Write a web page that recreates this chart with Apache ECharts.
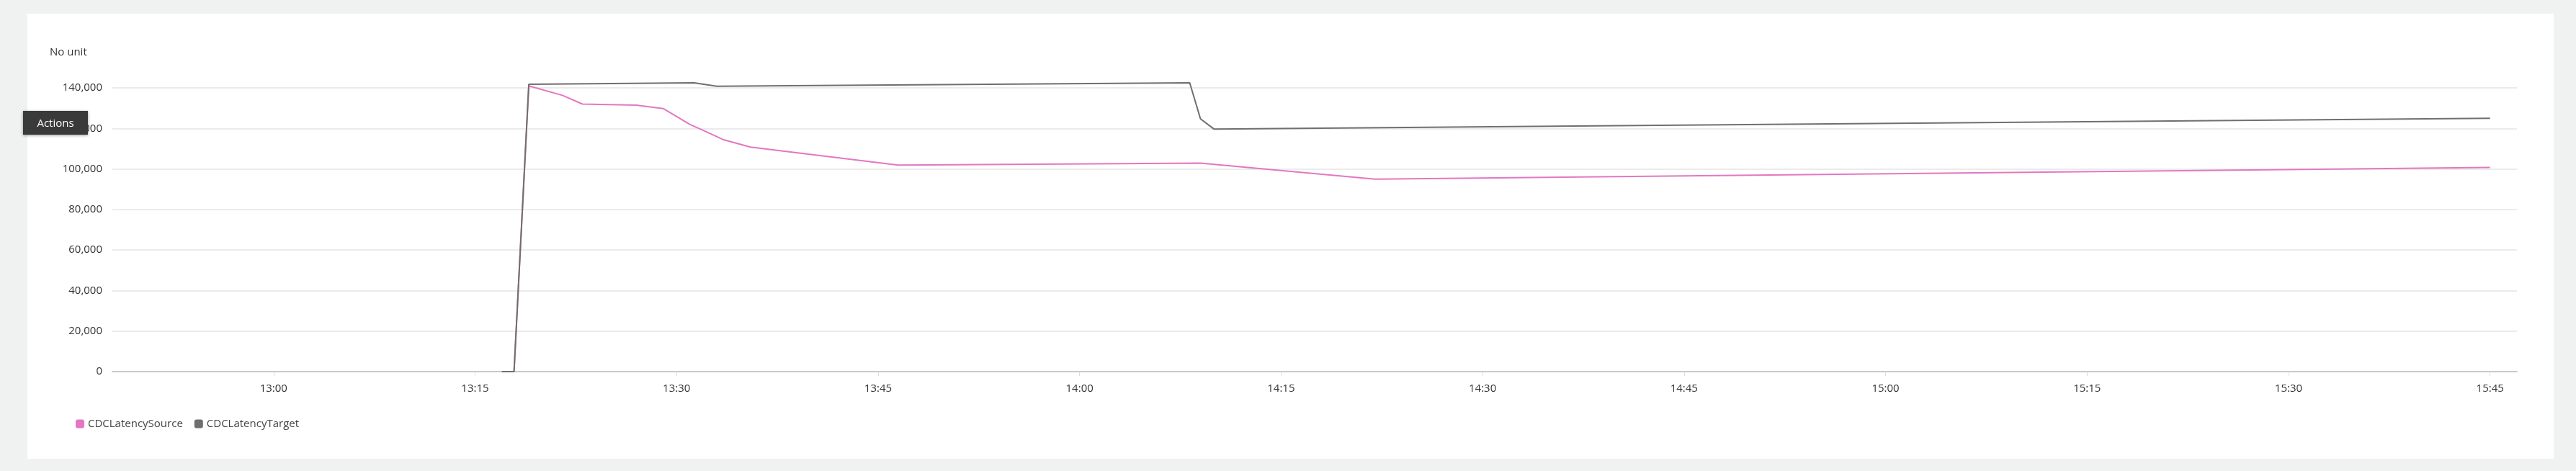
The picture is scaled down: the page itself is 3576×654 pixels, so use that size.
<!DOCTYPE html>
<html><head><meta charset="utf-8">
<script src="https://cdn.jsdelivr.net/npm/echarts@6/dist/echarts.min.js"></script>
<style>html,body{margin:0;background:#f0f1f1}#card{position:absolute;left:38px;top:19px;width:3507px;height:618px;background:#fff}#c{position:absolute;left:0;top:0;width:3576px;height:654px}
#act{position:absolute;left:32px;top:154px;width:90px;height:33px;background:#3a3a3a;color:#fff;font:15px "Open Sans",sans-serif;line-height:33px;text-align:center;box-shadow:0 1px 4px rgba(0,0,0,.4)}</style>
</head><body><div id="card"></div><div id="c"></div><div id="act">Actions</div>
<script>
// minutes since midnight
const sourceTimes = [797, 797.9, 799, 801.5, 803, 807, 809, 811, 812, 813.5, 815.5, 826.5, 849, 862, 945];
const sourceValues = [0, 0, 141000, 136300, 132000, 131500, 129800, 121900, 119000, 114400, 110800, 101900, 102900, 95000, 100700];
const targetTimes = [797, 797.9, 799, 811.3, 813, 848.2, 849, 850, 945];
const targetValues = [0, 0, 141800, 142500, 140800, 142500, 124700, 119700, 125000];
const xTicks = [780, 795, 810, 825, 840, 855, 870, 885, 900, 915, 930, 945];
const yTicks = [0, 20000, 40000, 60000, 80000, 100000, 120000, 140000];
const fmtT = m => Math.floor(m/60) + ':' + String(Math.round(m%60)).padStart(2,'0');
const font = '"Open Sans", sans-serif';
const chart = echarts.init(document.getElementById('c'));
chart.setOption({
  animation:false,
  title:{text:'No unit',left:64,top:60,textStyle:{fontSize:15,fontWeight:'normal',color:'#333',fontFamily:font}},
  legend:{left:100,top:576,itemWidth:12,itemHeight:12,icon:'roundRect',itemGap:16,textStyle:{fontSize:15,color:'#444',fontFamily:font},data:['CDCLatencySource','CDCLatencyTarget']},
  grid:{left:156,right:82,top:122,bottom:138},
  xAxis:{type:'value',min:768,max:947,
    axisLine:{lineStyle:{color:'#c8c8c8',width:2}},
    axisTick:{show:true,customValues:xTicks,length:6,lineStyle:{color:'#ddd'}},
    axisLabel:{customValues:xTicks,formatter:v=>fmtT(v),fontSize:15,color:'#333',fontFamily:font,margin:16},
    splitLine:{show:false}},
  yAxis:{type:'value',min:0,max:140000,interval:20000,
    axisLine:{show:false},axisTick:{show:false},
    axisLabel:{formatter:v=>v.toLocaleString('en-US'),fontSize:15,color:'#333',fontFamily:font,margin:14},
    splitLine:{lineStyle:{color:'#ebebeb',width:2}}},
  series:[
    {name:'CDCLatencySource',type:'line',clip:false,showSymbol:false,color:'#e377c2',lineStyle:{width:2,color:'#e377c2'},data:sourceTimes.map((t,i)=>[t,sourceValues[i]])},
    {name:'CDCLatencyTarget',type:'line',clip:false,showSymbol:false,color:'#6f6f6f',lineStyle:{width:2,color:'#6f6f6f'},data:targetTimes.map((t,i)=>[t,targetValues[i]])}
  ]
});
</script></body></html>
